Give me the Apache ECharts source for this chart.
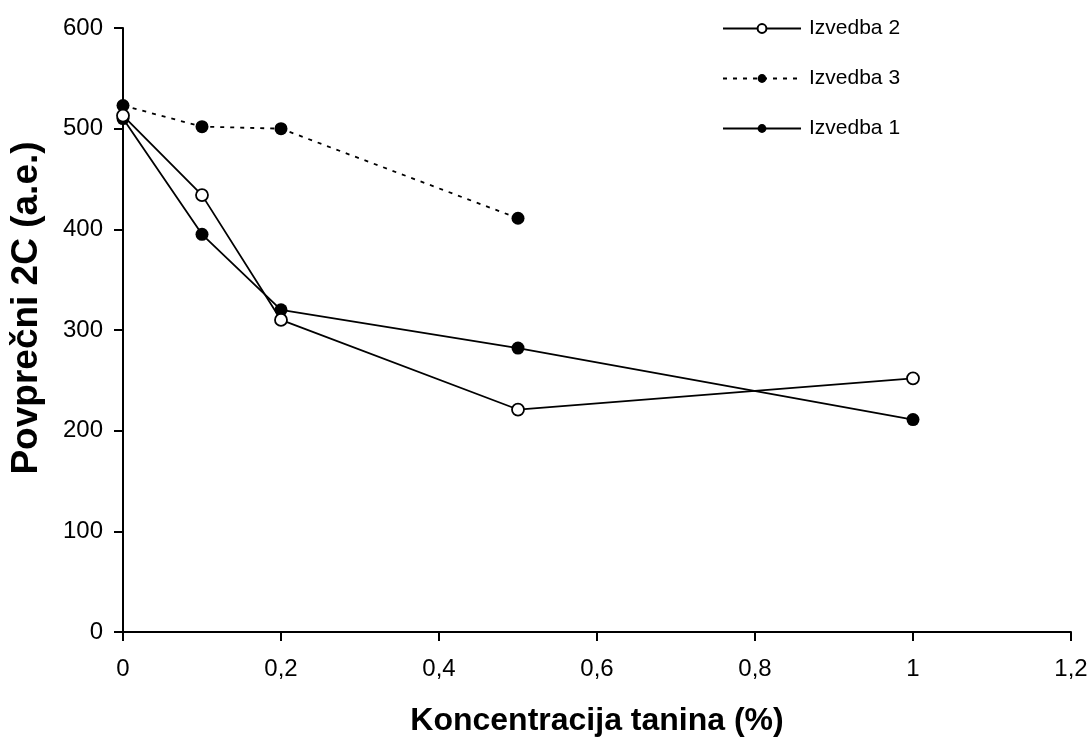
<!DOCTYPE html>
<html><head><meta charset="utf-8">
<script src="https://cdn.jsdelivr.net/npm/echarts@6/dist/echarts.min.js"></script>
<style>html,body{margin:0;padding:0;background:#fff}#c{width:1092px;height:742px}</style>
</head><body><div id="c"></div>
<script>
const xTickLabels = ['0','0,2','0,4','0,6','0,8','1','1,2'];
const izvedba2 = [[0,513],[0.1,434],[0.2,310],[0.5,221],[1,252]];
const izvedba3 = [[0,523],[0.1,502],[0.2,500],[0.5,411]];
const izvedba1 = [[0,510],[0.1,395],[0.2,320],[0.5,282],[1,211]];
const seriesNames = ['Izvedba 2','Izvedba 3','Izvedba 1'];

const chart = echarts.init(document.getElementById('c'), null, {renderer:'canvas'});
const FONT = 'Liberation Sans, Arial, sans-serif';
chart.setOption({
  animation:false,
  backgroundColor:'#fff',
  grid:{left:122,right:21,top:28,bottom:107},
  legend:{
    orient:'vertical', left:717, top:13, itemGap:29, itemWidth:78, itemHeight:11,
    textStyle:{fontFamily:FONT, fontSize:21, color:'#000', padding:[0,0,0,3]},
    data:seriesNames
  },
  xAxis:{
    type:'value', min:0, max:1.2, interval:0.2,
    name:'Koncentracija tanina (%)', nameLocation:'middle', nameGap:73,
    nameTextStyle:{fontFamily:FONT, fontSize:32, fontWeight:'bold', color:'#000'},
    axisLine:{lineStyle:{color:'#000', width:2}},
    axisTick:{show:true, inside:false, length:9, lineStyle:{color:'#000', width:2}},
    axisLabel:{fontFamily:FONT, fontSize:24, color:'#000', margin:25, formatter:(v,i)=>xTickLabels[i]},
    splitLine:{show:false}
  },
  yAxis:{
    type:'value', min:0, max:600, interval:100,
    name:'Povprečni 2C (a.e.)', nameLocation:'middle', nameGap:78,
    nameTextStyle:{fontFamily:FONT, fontSize:37, fontWeight:'bold', color:'#000', padding:[0,0,0,44]},
    axisLine:{show:true, lineStyle:{color:'#000', width:2}},
    axisTick:{show:true, inside:false, length:9, lineStyle:{color:'#000', width:2}},
    axisLabel:{fontFamily:FONT, fontSize:24, color:'#000', margin:20},
    splitLine:{show:false}
  },
  series:[
    {name:'Izvedba 2', type:'line', data:izvedba2, symbol:'circle', symbolSize:12,
      lineStyle:{color:'#000', width:1.8}, itemStyle:{color:'#fff', borderColor:'#000', borderWidth:1.8}, z:3},
    {name:'Izvedba 3', type:'line', data:izvedba3, symbol:'circle', symbolSize:13,
      lineStyle:{color:'#000', width:1.8, type:[4,6]}, itemStyle:{color:'#000', borderColor:'#000', borderWidth:0}, z:2},
    {name:'Izvedba 1', type:'line', data:izvedba1, symbol:'circle', symbolSize:13,
      lineStyle:{color:'#000', width:1.8}, itemStyle:{color:'#000', borderColor:'#000', borderWidth:0}, z:2}
  ]
});
</script></body></html>
